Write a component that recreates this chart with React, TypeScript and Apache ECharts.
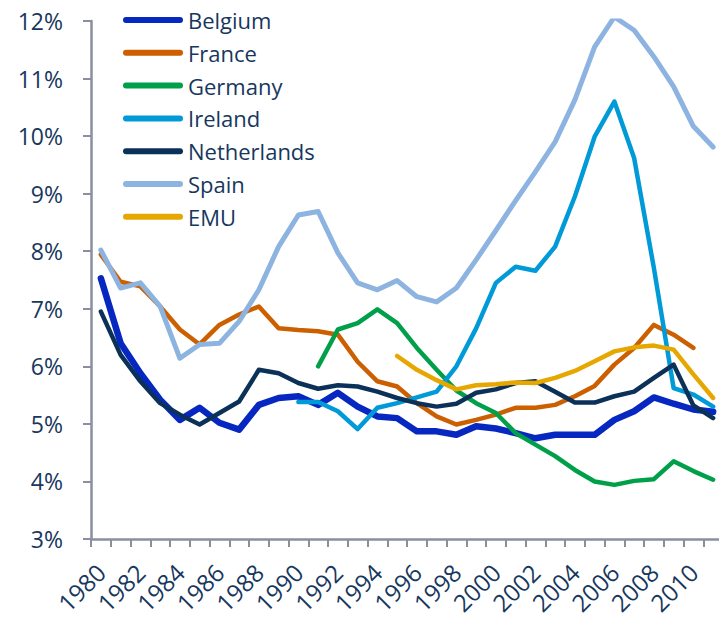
import React, { useEffect, useRef } from "react";
import * as echarts from "echarts";

const years = [
  "1980", "1981", "1982", "1983", "1984", "1985", "1986", "1987", "1988", "1989",
  "1990", "1991", "1992", "1993", "1994", "1995", "1996", "1997", "1998", "1999",
  "2000", "2001", "2002", "2003", "2004", "2005", "2006", "2007", "2008", "2009",
  "2010", "2011",
];

const belgium = [
  7.53, 6.4, 5.88, 5.42, 5.07, 5.28, 5.02, 4.9, 5.33, 5.45,
  5.48, 5.33, 5.54, 5.3, 5.13, 5.1, 4.87, 4.87, 4.81, 4.96,
  4.92, 4.84, 4.75, 4.81, 4.81, 4.81, 5.07, 5.22, 5.46, 5.35,
  5.25, 5.21,
];
const france = [
  7.94, 7.47, 7.39, 7.04, 6.64, 6.38, 6.72, 6.9, 7.04, 6.66,
  6.63, 6.61, 6.55, 6.08, 5.74, 5.65, 5.36, 5.13, 4.99, 5.07,
  5.16, 5.28, 5.28, 5.33, 5.48, 5.66, 6.03, 6.32, 6.72, 6.55,
  6.32, null,
];
const germany = [
  null, null, null, null, null, null, null, null, null, null,
  null, 6.0, 6.64, 6.75, 6.99, 6.75, 6.32, 5.94, 5.58, 5.36,
  5.19, 4.84, 4.64, 4.44, 4.2, 4.0, 3.94, 4.01, 4.04, 4.35,
  4.18, 4.03,
];
const ireland = [
  null, null, null, null, null, null, null, null, null, null,
  5.38, 5.38, 5.22, 4.91, 5.28, 5.36, 5.46, 5.56, 6.0, 6.66,
  7.45, 7.73, 7.66, 8.08, 8.95, 9.99, 10.6, 9.62, 7.71, 5.62,
  5.51, 5.3,
];
const netherlands = [
  6.95, 6.2, 5.74, 5.36, 5.16, 4.99, 5.19, 5.39, 5.94, 5.88,
  5.71, 5.61, 5.67, 5.65, 5.56, 5.45, 5.36, 5.3, 5.35, 5.54,
  5.6, 5.71, 5.74, 5.56, 5.37, 5.37, 5.48, 5.56, 5.8, 6.03,
  5.32, 5.1,
];
const spain = [
  8.02, 7.36, 7.45, 7.04, 6.14, 6.38, 6.4, 6.78, 7.33, 8.08,
  8.63, 8.69, 7.97, 7.45, 7.33, 7.49, 7.21, 7.12, 7.36, 7.85,
  8.36, 8.88, 9.38, 9.9, 10.63, 11.55, 12.07, 11.84, 11.38, 10.86,
  10.17, 9.81,
];
const emu = [
  null, null, null, null, null, null, null, null, null, null,
  null, null, null, null, null, 6.18, 5.94, 5.76, 5.6, 5.67,
  5.69, 5.72, 5.71, 5.8, 5.92, 6.09, 6.26, 6.33, 6.36, 6.29,
  5.86, 5.45,
];

const yTicks = { min: 3, max: 12, step: 1 };

const seriesDefs = [
  { name: "Belgium", data: belgium, color: "#0628c0", width: 6.5 },
  { name: "France", data: france, color: "#cc5f00", width: 4.5 },
  { name: "Germany", data: germany, color: "#00a04a", width: 4.5 },
  { name: "Ireland", data: ireland, color: "#009ad8", width: 4.5 },
  { name: "Netherlands", data: netherlands, color: "#0b3158", width: 4.5 },
  { name: "Spain", data: spain, color: "#8db4e0", width: 5 },
  { name: "EMU", data: emu, color: "#e6a800", width: 4.5 },
];

const TEXT = "#17375e";
const AXIS = "#8a8fa0";
const FONT = "'Open Sans', 'Noto Sans', sans-serif";

export default function App() {
  const ref = useRef<HTMLDivElement>(null);
  useEffect(() => {
    if (!ref.current) return;
    const chart = echarts.init(ref.current, undefined, { renderer: "svg" });
    chart.setOption({
      animation: false,
      backgroundColor: "#ffffff",
      grid: {
        left: 91,
        top: 21,
        width: 632,
        height: 518,
        containLabel: false,
        outerBoundsMode: "none",
      },
      legend: {
        orient: "vertical",
        left: 123,
        top: 9,
        padding: 0,
        itemGap: 10.8,
        itemWidth: 60,
        itemHeight: 6,
        icon: "path://M3,0 L57,0 A3,3 0 0 1 57,6 L3,6 A3,3 0 0 1 3,0 Z",
        textStyle: { color: TEXT, fontSize: 22, fontFamily: FONT, lineHeight: 22, padding: [0, 0, 0, 0] },
        data: seriesDefs.map((s) => s.name),
      },
      xAxis: {
        type: "category",
        data: years,
        boundaryGap: true,
        axisLine: { show: true, lineStyle: { color: AXIS, width: 2.5 } },
        axisTick: { show: true, interval: 0, length: 8, lineStyle: { color: AXIS, width: 2 } },
        axisLabel: {
          interval: 1,
          rotate: 45,
          margin: 29,
          color: TEXT,
          fontSize: 24,
          lineHeight: 24,
          fontFamily: FONT,
        },
        splitLine: { show: false },
      },
      yAxis: {
        type: "value",
        min: yTicks.min,
        max: yTicks.max,
        interval: yTicks.step,
        axisLine: { show: true, lineStyle: { color: AXIS, width: 2.5 } },
        axisTick: { show: true, length: 8, lineStyle: { color: AXIS, width: 2 } },
        axisLabel: {
          formatter: "{value}%",
          margin: 28,
          color: TEXT,
          fontSize: 23,
          fontFamily: FONT,
        },
        splitLine: { show: false },
      },
      series: seriesDefs.map((s) => ({
        name: s.name,
        type: "line",
        data: s.data,
        symbol: "none",
        showSymbol: false,
        connectNulls: false,
        color: s.color,
        lineStyle: { color: s.color, width: s.width, cap: "round", join: "round" },
      })),
    });
    return () => chart.dispose();
  }, []);
  return (
    <div
      ref={ref}
      style={{ position: "absolute", left: 0, top: 0, width: 719, height: 619, background: "#fff" }}
    />
  );
}
